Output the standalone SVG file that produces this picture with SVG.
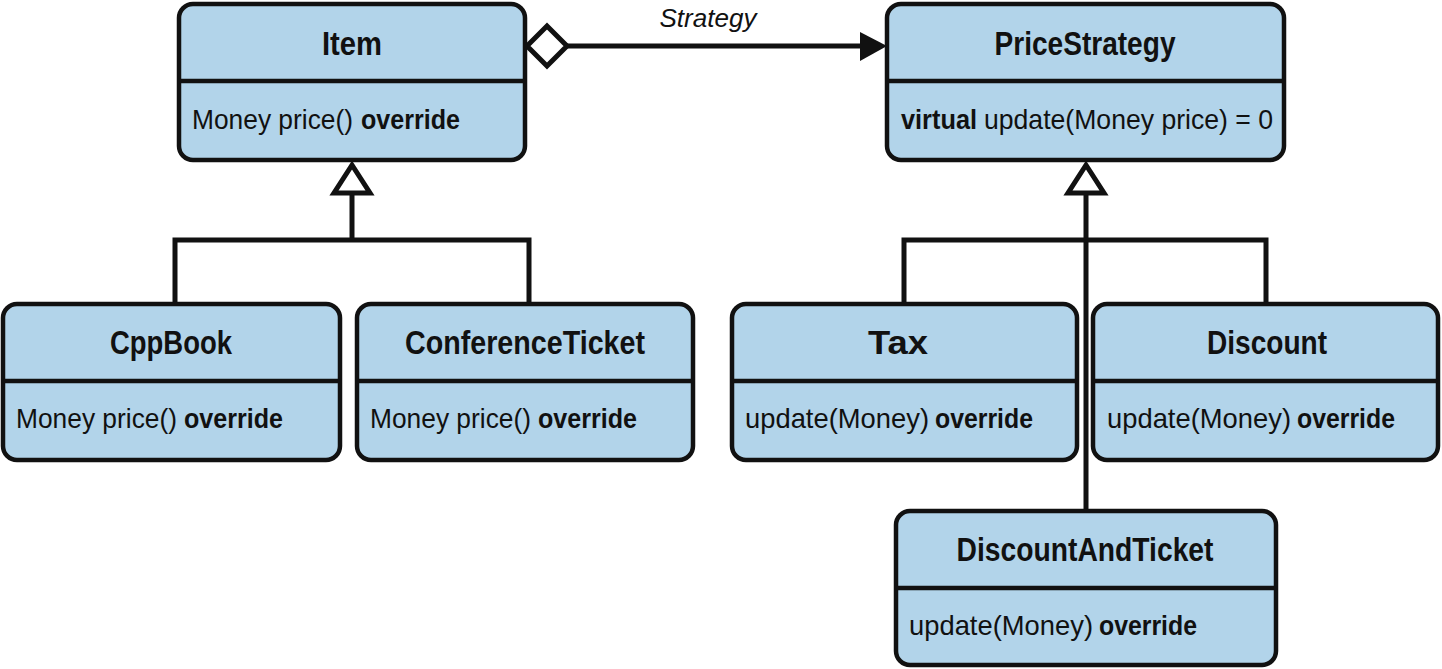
<svg xmlns="http://www.w3.org/2000/svg" width="1442" height="669" viewBox="0 0 1442 669">
<style>
.box{fill:#b2d4ea;stroke:#111;stroke-width:4.5}
.div{stroke:#111;stroke-width:4.5}
.t{font-family:"Liberation Sans",Arial,sans-serif;font-size:34px;font-weight:bold;fill:#111;text-anchor:middle}
.b{font-family:"Liberation Sans",Arial,sans-serif;font-size:28px;fill:#111}
.bb{font-family:"Liberation Sans",Arial,sans-serif;font-size:28px;fill:#111;font-weight:bold}
.ln{fill:none;stroke:#111;stroke-width:5}
.hol{fill:#fff;stroke:#111;stroke-width:5;stroke-linejoin:miter}
.lbl{font-family:"Liberation Sans",Arial,sans-serif;font-size:26px;font-style:italic;fill:#111;text-anchor:middle}
</style>
<rect width="1442" height="669" fill="#fff"/>
<g id="connectors">
  <line class="ln" x1="567" y1="46" x2="864" y2="46"/>
  <polygon points="527,46 547,26 567,46 547,66" class="hol"/>
  <polygon points="887,46 860,32 860,61" fill="#111"/>
  <text class="lbl" x="708" y="27" textLength="97" lengthAdjust="spacingAndGlyphs">Strategy</text>
  <line class="ln" x1="352" y1="193" x2="352" y2="240"/>
  <path class="ln" d="M175,303 V240 H529 V303"/>
  <polygon points="352,165 370,193 334,193" class="hol"/>
  <line class="ln" x1="1086" y1="193" x2="1086" y2="510"/>
  <path class="ln" d="M904,304 V240 H1266 V304"/>
  <polygon points="1086,165 1104,193 1068,193" class="hol"/>
</g>
<g id="Item">
  <rect class="box" x="179" y="4" width="346" height="156" rx="14"/>
  <line class="div" x1="179" y1="81" x2="525" y2="81"/>
  <text class="t" x="352" y="55" textLength="60" lengthAdjust="spacingAndGlyphs">Item</text>
  <text class="b" x="192" y="129" textLength="161" lengthAdjust="spacingAndGlyphs">Money price()</text>
  <text class="bb" x="361" y="129" textLength="99" lengthAdjust="spacingAndGlyphs">override</text>
</g>
<g id="PriceStrategy">
  <rect class="box" x="887" y="4" width="397" height="156" rx="14"/>
  <line class="div" x1="887" y1="81" x2="1284" y2="81"/>
  <text class="t" x="1085" y="55" textLength="181" lengthAdjust="spacingAndGlyphs">PriceStrategy</text>
  <text class="bb" x="901" y="129" textLength="76" lengthAdjust="spacingAndGlyphs">virtual</text>
  <text class="b" x="984" y="129" textLength="289" lengthAdjust="spacingAndGlyphs">update(Money price) = 0</text>
</g>
<g id="CppBook">
  <rect class="box" x="3" y="304" width="337" height="156" rx="14"/>
  <line class="div" x1="3" y1="381" x2="340" y2="381"/>
  <text class="t" x="171" y="354" textLength="122" lengthAdjust="spacingAndGlyphs">CppBook</text>
  <text class="b" x="16" y="428" textLength="161" lengthAdjust="spacingAndGlyphs">Money price()</text>
  <text class="bb" x="184" y="428" textLength="99" lengthAdjust="spacingAndGlyphs">override</text>
</g>
<g id="ConferenceTicket">
  <rect class="box" x="357" y="304" width="336" height="156" rx="14"/>
  <line class="div" x1="357" y1="381" x2="693" y2="381"/>
  <text class="t" x="525" y="354" textLength="240" lengthAdjust="spacingAndGlyphs">ConferenceTicket</text>
  <text class="b" x="370" y="428" textLength="161" lengthAdjust="spacingAndGlyphs">Money price()</text>
  <text class="bb" x="538" y="428" textLength="99" lengthAdjust="spacingAndGlyphs">override</text>
</g>
<g id="Tax">
  <rect class="box" x="732" y="304" width="345" height="156" rx="14"/>
  <line class="div" x1="732" y1="381" x2="1077" y2="381"/>
  <text class="t" x="898" y="354" textLength="60" lengthAdjust="spacingAndGlyphs">Tax</text>
  <text class="b" x="745" y="428" textLength="184" lengthAdjust="spacingAndGlyphs">update(Money)</text>
  <text class="bb" x="935" y="428" textLength="98" lengthAdjust="spacingAndGlyphs">override</text>
</g>
<g id="Discount">
  <rect class="box" x="1093" y="304" width="345" height="156" rx="14"/>
  <line class="div" x1="1093" y1="381" x2="1438" y2="381"/>
  <text class="t" x="1267" y="354" textLength="120" lengthAdjust="spacingAndGlyphs">Discount</text>
  <text class="b" x="1107" y="428" textLength="184" lengthAdjust="spacingAndGlyphs">update(Money)</text>
  <text class="bb" x="1297" y="428" textLength="98" lengthAdjust="spacingAndGlyphs">override</text>
</g>
<g id="DiscountAndTicket">
  <rect class="box" x="896" y="511" width="380" height="154" rx="14"/>
  <line class="div" x1="896" y1="588" x2="1276" y2="588"/>
  <text class="t" x="1085" y="561" textLength="257" lengthAdjust="spacingAndGlyphs">DiscountAndTicket</text>
  <text class="b" x="909" y="635" textLength="184" lengthAdjust="spacingAndGlyphs">update(Money)</text>
  <text class="bb" x="1099" y="635" textLength="98" lengthAdjust="spacingAndGlyphs">override</text>
</g>
</svg>
